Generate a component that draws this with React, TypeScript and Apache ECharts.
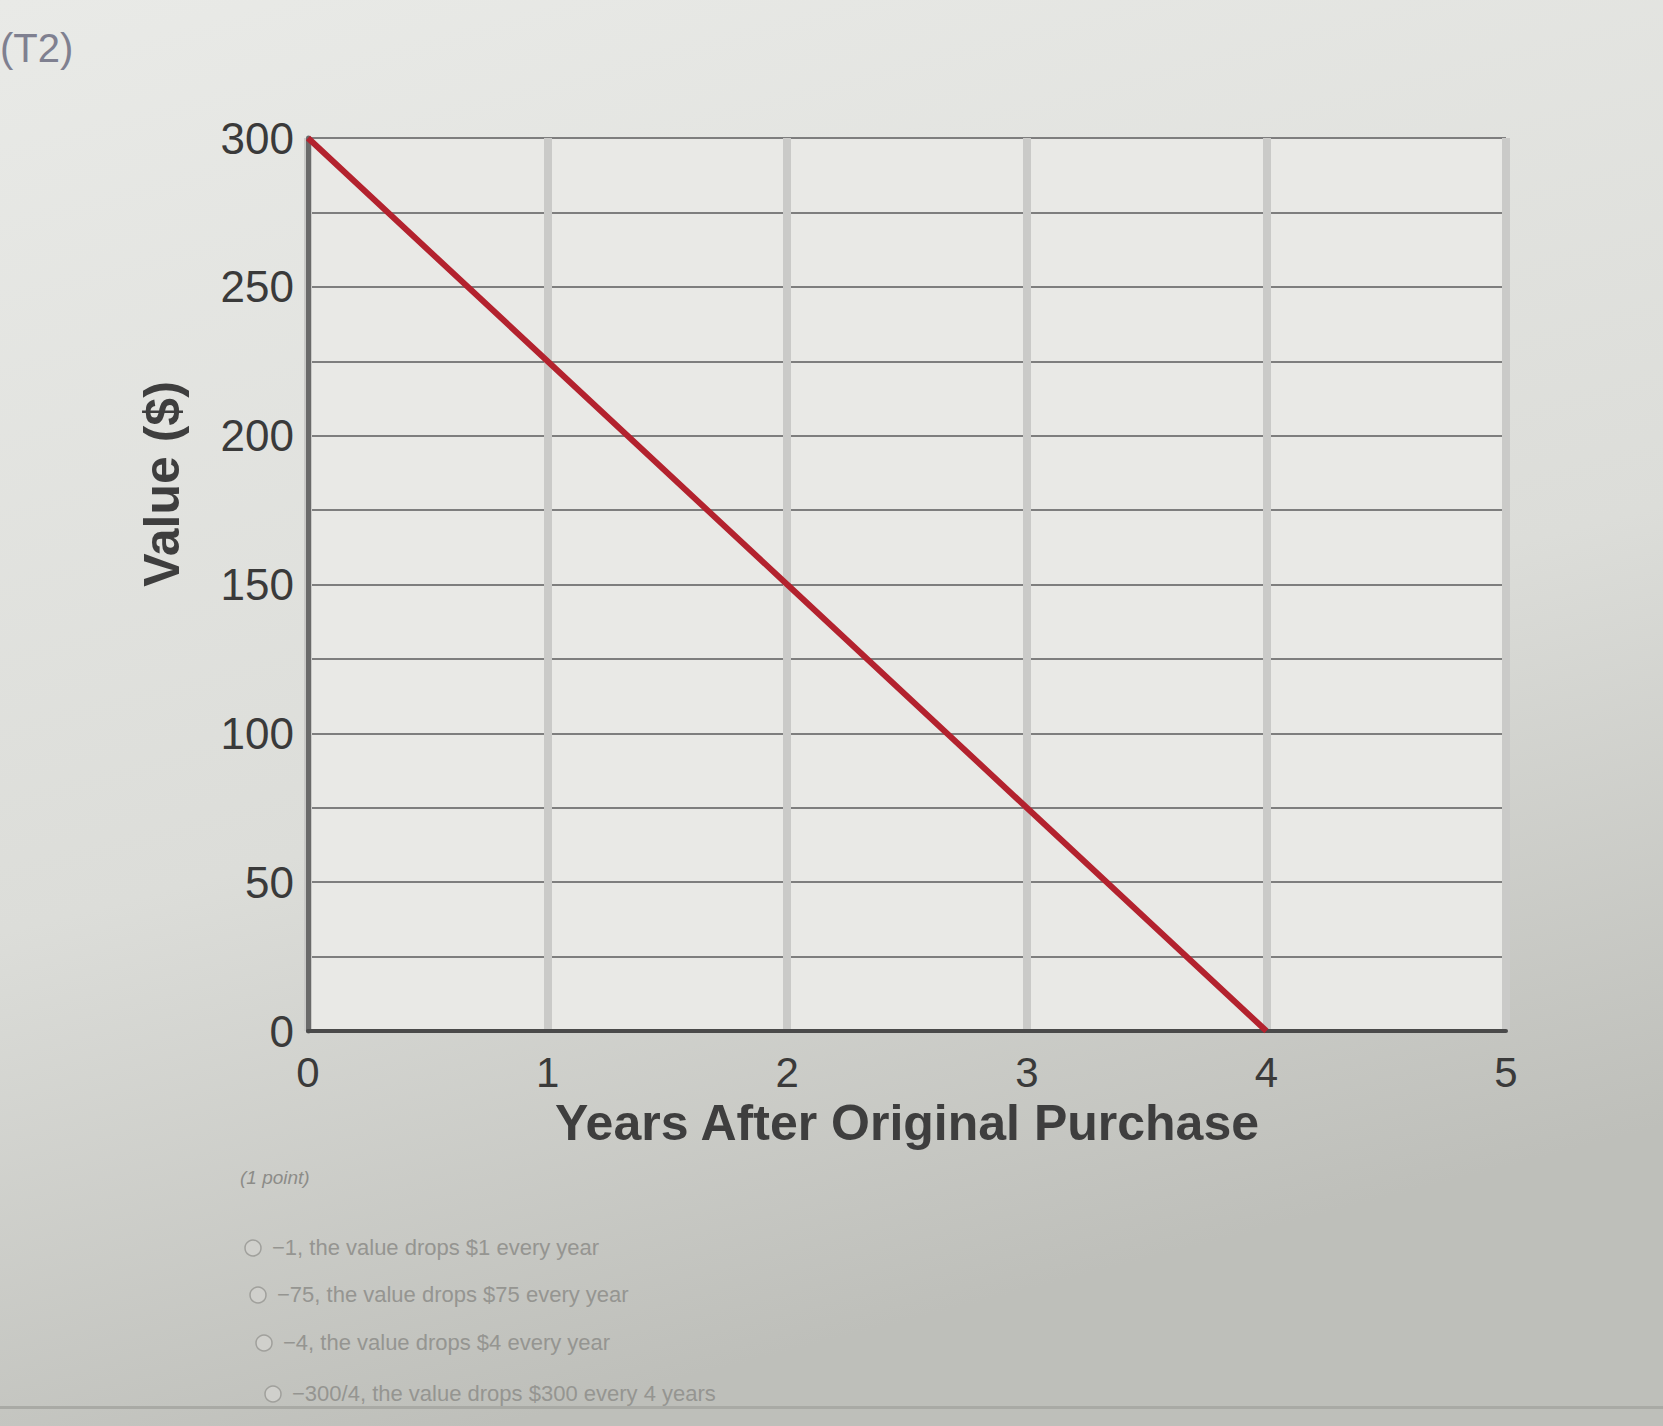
import React, { useEffect, useRef } from "react";
import * as echarts from "echarts";

const years = [0, 1, 2, 3, 4];
const values = [300, 225, 150, 75, 0];
const xTicks = [0, 1, 2, 3, 4, 5];
const yMax = 300;
const yStep = 25;
const title = "(T2)";
const xTitle = "Years After Original Purchase";
const yTitle = "Value ($)";
const pointLabel = "(1 point)";
const choices = [
  "−1, the value drops $1 every year",
  "−75, the value drops $75 every year",
  "−4, the value drops $4 every year",
  "−300/4, the value drops $300 every 4 years",
];

export default function App() {
  const ref = useRef<HTMLDivElement>(null);
  useEffect(() => {
    document.body.style.margin = "0";
    const chart = echarts.init(ref.current!, null, { renderer: "svg" });
    const font = "Liberation Sans";
    const choiceTop = [1236, 1283, 1331, 1382];
    const choiceLeft = [244, 249, 255, 264];
    const graphics: any[] = [
      {
        type: "text",
        left: 0,
        top: 28,
        style: { text: title, font: `40px "${font}"`, fill: "#7f8090" },
      },
      {
        type: "text",
        x: 162,
        y: 484,
        rotation: Math.PI / 2,
        style: {
          text: yTitle,
          font: `bold 50px "${font}"`,
          fill: "#3e3e3e",
          align: "center",
          verticalAlign: "middle",
        },
      },
      {
        type: "text",
        left: 240,
        top: 1168,
        style: { text: pointLabel, font: `italic 19px "${font}"`, fill: "#8c8c88" },
      },
      {
        type: "rect",
        left: 0,
        top: 1406,
        shape: { width: 1663, height: 3 },
        style: { fill: "#a9aaa5" },
      },
    ];
    choices.forEach((c, i) => {
      graphics.push({
        type: "circle",
        x: choiceLeft[i] + 9,
        y: choiceTop[i] + 12,
        shape: { r: 8 },
        style: { fill: "#d0d0cc", stroke: "#a0a09c", lineWidth: 1.5 },
      });
      graphics.push({
        type: "text",
        x: choiceLeft[i] + 28,
        y: choiceTop[i],
        style: { text: c, font: `22px "${font}"`, fill: "#959591" },
      });
    });
    chart.setOption({
      animation: false,
      backgroundColor: {
        type: "linear",
        x: 0,
        y: 0,
        x2: 0.3,
        y2: 1,
        colorStops: [
          { offset: 0, color: "#e9eae7" },
          { offset: 0.6, color: "#dcddd9" },
          { offset: 1, color: "#bebfba" },
        ],
      },
      grid: { left: 308, right: 157, top: 138, bottom: 395, show: true, backgroundColor: "#e9e9e6", borderWidth: 0 },
      xAxis: {
        type: "value",
        min: 0,
        max: 5,
        interval: 1,
        name: xTitle,
        nameLocation: "middle",
        nameGap: 66,
        nameTextStyle: { fontFamily: font, fontSize: 50, fontWeight: "bold", color: "#3e3e3e" },
        axisLine: { show: true, lineStyle: { color: "#4a4a4a", width: 4 } },
        axisTick: { show: false },
        axisLabel: {
          fontFamily: font,
          fontSize: 42,
          color: "#3a3a3a",
          margin: 20,
          formatter: (v: number) => (xTicks.includes(v) ? String(v) : ""),
        },
        splitLine: { show: true, lineStyle: { color: "#cacac8", width: 8 } },
      },
      yAxis: {
        type: "value",
        min: 0,
        max: yMax,
        interval: yStep,
        axisLine: { show: true, lineStyle: { color: "#6a6a6a", width: 5 } },
        axisTick: { show: false },
        axisLabel: {
          fontFamily: font,
          fontSize: 44,
          color: "#3a3a3a",
          margin: 14,
          formatter: (v: number) => (v % 50 === 0 ? String(v) : ""),
        },
        splitLine: { show: true, lineStyle: { color: "#7e7e7e", width: 2 } },
      },
      series: [
        {
          type: "line",
          data: years.map((y, i) => [y, values[i]]),
          symbol: "none",
          lineStyle: { color: "#b3222e", width: 6 },
        },
      ],
      graphic: graphics,
    });
    return () => chart.dispose();
  }, []);
  return <div ref={ref} style={{ width: 1663, height: 1426 }} />;
}
